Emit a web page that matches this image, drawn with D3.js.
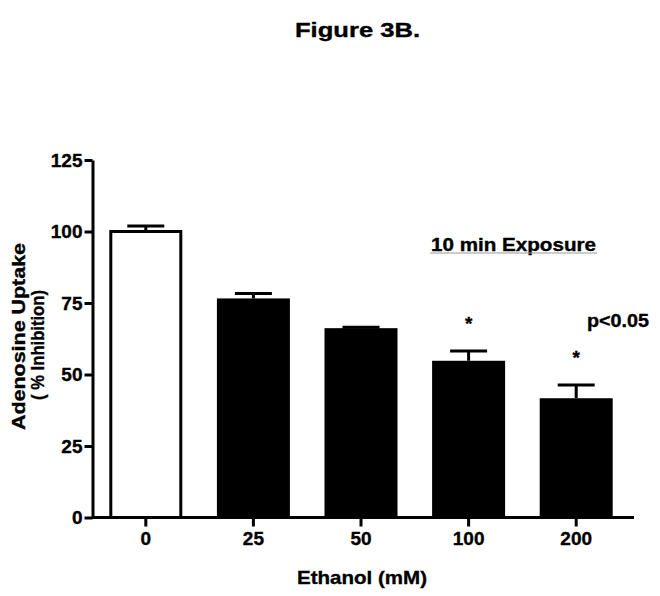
<!DOCTYPE html>
<html>
<head>
  <meta charset='utf-8'>
  <title>Figure 3B</title>
  <style>
    body { margin: 0; background: #fff; }
    text { font-family: 'Liberation Sans', Arial, sans-serif; font-weight: bold; fill: #000; stroke: #000; stroke-width: 0.35px; }
  </style>
</head>
<body>
<div id="chart"></div>
<script src="https://cdnjs.cloudflare.com/ajax/libs/d3/7.8.5/d3.min.js"></script>
<script>

// values
var doses = ['0', '25', '50', '100', '200'];
var uptake = [100, 76.6, 66.2, 54.8, 41.7];
var sem = [1.9, 1.7, 0.3, 3.4, 4.6];
var significant = [false, false, false, true, true];
var yTicks = [0, 25, 50, 75, 100, 125];

var width = 660, height = 596;

var svg = d3.select('#chart')
  .append('svg')
  .attr('width', width)
  .attr('height', height);

var x = d3.scaleBand()
  .domain(doses)
  .range([92, 630])
  .paddingInner(0.3216)
  .paddingOuter(0.1608);

var y = d3.scaleLinear()
  .domain([0, 125])
  .range([517.5, 160]);

var rows = doses.map(function(d, i) {
  return {dose: d, val: uptake[i], err: sem[i], sig: significant[i], control: i === 0};
});

// bars
svg.append('g').selectAll('rect')
  .data(rows)
  .enter()
    .append('rect')
    .attr('x', function(d) { return d.control ? x(d.dose) + 1.5 : x(d.dose); })
    .attr('width', function(d) { return d.control ? x.bandwidth() - 3 : x.bandwidth(); })
    .attr('y', function(d) { return y(d.val); })
    .attr('height', function(d) { return y(0) - y(d.val); })
    .attr('fill', function(d) { return d.control ? '#fff' : '#000'; })
    .attr('stroke', function(d) { return d.control ? '#000' : 'none'; })
    .attr('stroke-width', 3);

// error bars (upper only)
var cap = 37;
var err = svg.append('g').attr('stroke', '#000').attr('stroke-width', 3);
err.selectAll('.stem')
  .data(rows)
  .enter()
    .append('line')
    .attr('x1', function(d) { return x(d.dose) + x.bandwidth() / 2; })
    .attr('x2', function(d) { return x(d.dose) + x.bandwidth() / 2; })
    .attr('y1', function(d) { return y(d.val); })
    .attr('y2', function(d) { return y(d.val + d.err); });
err.selectAll('.cap')
  .data(rows)
  .enter()
    .append('line')
    .attr('x1', function(d) { return x(d.dose) + x.bandwidth() / 2 - cap / 2; })
    .attr('x2', function(d) { return x(d.dose) + x.bandwidth() / 2 + cap / 2; })
    .attr('y1', function(d) { return y(d.val + d.err); })
    .attr('y2', function(d) { return y(d.val + d.err); });

// significance stars
svg.append('g').selectAll('text')
  .data(rows.filter(function(d) { return d.sig; }))
  .enter()
    .append('text')
    .attr('x', function(d) { return x(d.dose) + x.bandwidth() / 2; })
    .attr('y', function(d) { return y(d.val + d.err) - 21; })
    .attr('text-anchor', 'middle')
    .attr('font-size', 19)
    .text('*');

// axes
var yAxis = svg.append('g')
  .attr('transform', 'translate(92.5,0)')
  .call(d3.axisLeft(y).tickValues(yTicks).tickSize(8).tickPadding(2).tickSizeOuter(0));

var xAxis = svg.append('g')
  .attr('transform', 'translate(0,517.5)')
  .call(d3.axisBottom(x).tickSize(9).tickPadding(5).tickSizeOuter(0));

// x axis line runs a little past the last band
xAxis.select('.domain').attr('d', 'M' + x.range()[0] + ',0H634');

[yAxis, xAxis].forEach(function(a) {
  a.attr('font-family', null).attr('font-size', null);
  a.select('.domain').attr('stroke-width', 3);
  a.selectAll('.tick line').attr('stroke-width', 3);
  a.selectAll('.tick text').attr('font-size', 19).attr('fill', '#000');
});

// titles and notes
svg.append('text')
  .attr('x', 357.5).attr('y', 37)
  .attr('text-anchor', 'middle')
  .attr('font-size', 20)
  .attr('textLength', 125).attr('lengthAdjust', 'spacingAndGlyphs')
  .text('Figure 3B.');

svg.append('text')
  .attr('x', 362).attr('y', 584)
  .attr('text-anchor', 'middle')
  .attr('font-size', 18.5)
  .attr('textLength', 130).attr('lengthAdjust', 'spacingAndGlyphs')
  .text('Ethanol (mM)');

svg.append('text')
  .attr('transform', 'translate(25,336.5) rotate(-90)')
  .attr('text-anchor', 'middle')
  .attr('font-size', 18.5)
  .attr('textLength', 187).attr('lengthAdjust', 'spacingAndGlyphs')
  .text('Adenosine Uptake');

svg.append('text')
  .attr('transform', 'translate(44,345) rotate(-90)')
  .attr('text-anchor', 'middle')
  .attr('font-size', 18.5)
  .attr('textLength', 110).attr('lengthAdjust', 'spacingAndGlyphs')
  .text('( % Inhibition)');

svg.append('text')
  .attr('x', 431).attr('y', 251)
  .attr('font-size', 17.5)
  .attr('textLength', 165).attr('lengthAdjust', 'spacingAndGlyphs')
  .text('10 min Exposure');

svg.append('line')
  .attr('x1', 430).attr('x2', 597)
  .attr('y1', 253).attr('y2', 253)
  .attr('stroke', '#999').attr('stroke-width', 1);

svg.append('text')
  .attr('x', 587).attr('y', 327)
  .attr('font-size', 17.5)
  .attr('textLength', 62).attr('lengthAdjust', 'spacingAndGlyphs')
  .text('p<0.05');

</script>
</body>
</html>
